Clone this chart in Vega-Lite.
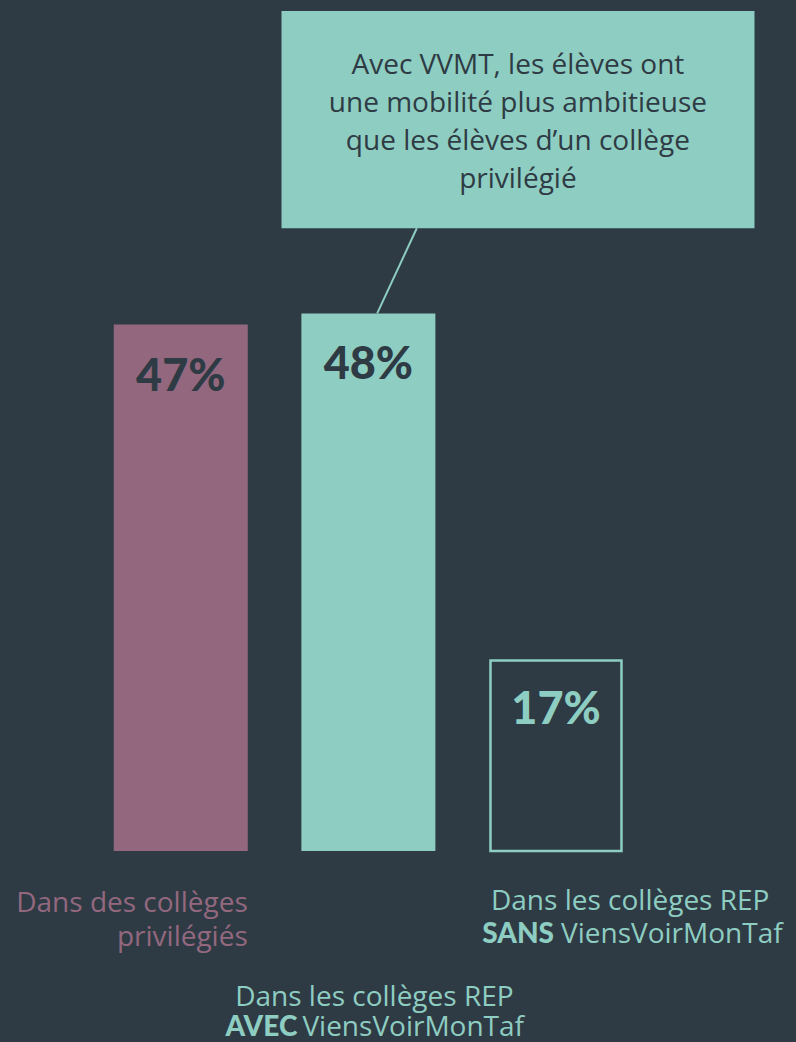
{
  "$schema": "https://vega.github.io/schema/vega-lite/v6.json",
  "width": 796,
  "height": 1042,
  "padding": 0,
  "autosize": {"type": "none"},
  "background": "#2e3b44",
  "config": {"view": {"stroke": null}, "text": {"font": "Open Sans"}, "axis": {"disable": true}},
  "datasets": {
    "bars": [
      {"pos": 1, "cat": "privilégiés", "value": 47, "label": "47%", "desc1": "Dans des collèges", "desc2": "privilégiés", "emph": "", "brand": ""},
      {"pos": 2, "cat": "AVEC", "value": 48, "label": "48%", "desc1": "Dans les collèges REP", "desc2": "", "emph": "AVEC", "brand": "ViensVoirMonTaf"},
      {"pos": 3, "cat": "SANS", "value": 17, "label": "17%", "desc1": "Dans les collèges REP", "desc2": "", "emph": "SANS", "brand": "ViensVoirMonTaf"}
    ],
    "note": [
      {"note": "Avec VVMT, les élèves ont\nune mobilité plus ambitieuse\nque les élèves d’un collège\nprivilégié", "left": 1.537, "right": 4.058, "bottom": 55.6, "top": 75.0, "center": 2.797, "from_x": 2.258, "to_x": 2.047, "to_y": 48}
    ]
  },
  "layer": [
    {
      "data": {"name": "bars"},
      "transform": [{"filter": "datum.pos < 3"}],
      "mark": {"type": "bar", "width": 134},
      "encoding": {
        "x": {"field": "pos", "type": "quantitative", "axis": null, "scale": {"domain": [0.0632, 4.2526], "nice": false, "zero": false}},
        "y": {"field": "value", "type": "quantitative", "axis": null, "scale": {"domain": [-17.05, 75.98], "nice": false, "zero": false}},
        "color": {"field": "cat", "type": "nominal", "legend": null, "scale": {"domain": ["privilégiés", "AVEC", "SANS"], "range": ["#93687f", "#8ecdc2", "#2e3b44"]}}
      }
    },
    {
      "data": {"name": "bars"},
      "transform": [{"filter": "datum.pos === 3"}],
      "mark": {"type": "bar", "width": 131, "fill": "#2e3b44", "stroke": "#8ecdc2", "strokeWidth": 2.5},
      "encoding": {
        "x": {"field": "pos", "type": "quantitative", "axis": null},
        "y": {"field": "value", "type": "quantitative", "axis": null}
      }
    },
    {
      "data": {"name": "bars"},
      "transform": [{"filter": "datum.pos < 3"}],
      "mark": {"type": "text", "font": "Lato", "fontWeight": 900, "fontSize": 45, "baseline": "alphabetic", "align": "center", "dy": 66, "color": "#2e3b44"},
      "encoding": {
        "x": {"field": "pos", "type": "quantitative", "axis": null},
        "y": {"field": "value", "type": "quantitative", "axis": null},
        "text": {"field": "label"}
      }
    },
    {
      "data": {"name": "bars"},
      "transform": [{"filter": "datum.pos === 3"}],
      "mark": {"type": "text", "font": "Lato", "fontWeight": 900, "fontSize": 45, "baseline": "alphabetic", "align": "center", "dy": 63, "color": "#8ecdc2"},
      "encoding": {
        "x": {"field": "pos", "type": "quantitative", "axis": null},
        "y": {"field": "value", "type": "quantitative", "axis": null},
        "text": {"field": "label"}
      }
    },
    {
      "data": {"name": "bars"},
      "transform": [{"filter": "datum.pos === 1"}],
      "mark": {"type": "text", "fontSize": 28, "align": "right", "baseline": "alphabetic", "dx": 67, "dy": 61, "color": "#93687f"},
      "encoding": {
        "x": {"field": "pos", "type": "quantitative", "axis": null},
        "y": {"datum": 0, "type": "quantitative", "axis": null},
        "text": {"field": "desc1"}
      }
    },
    {
      "data": {"name": "bars"},
      "transform": [{"filter": "datum.pos === 1"}],
      "mark": {"type": "text", "fontSize": 28, "align": "right", "baseline": "alphabetic", "dx": 67, "dy": 95, "color": "#93687f"},
      "encoding": {
        "x": {"field": "pos", "type": "quantitative", "axis": null},
        "y": {"datum": 0, "type": "quantitative", "axis": null},
        "text": {"field": "desc2"}
      }
    },
    {
      "data": {"name": "bars"},
      "transform": [{"filter": "datum.pos === 3"}],
      "mark": {"type": "text", "fontSize": 28, "align": "left", "baseline": "alphabetic", "dx": -65, "dy": 59, "color": "#8ecdc2"},
      "encoding": {
        "x": {"field": "pos", "type": "quantitative", "axis": null},
        "y": {"datum": 0, "type": "quantitative", "axis": null},
        "text": {"field": "desc1"}
      }
    },
    {
      "data": {"name": "bars"},
      "transform": [{"filter": "datum.pos === 3"}],
      "mark": {"type": "text", "fontSize": 28, "font": "Lato", "fontWeight": 900, "align": "right", "baseline": "alphabetic", "dx": -2, "dy": 92, "color": "#8ecdc2"},
      "encoding": {
        "x": {"field": "pos", "type": "quantitative", "axis": null},
        "y": {"datum": 0, "type": "quantitative", "axis": null},
        "text": {"field": "emph"}
      }
    },
    {
      "data": {"name": "bars"},
      "transform": [{"filter": "datum.pos === 3"}],
      "mark": {"type": "text", "fontSize": 28, "align": "left", "baseline": "alphabetic", "dx": 5, "dy": 92, "color": "#8ecdc2"},
      "encoding": {
        "x": {"field": "pos", "type": "quantitative", "axis": null},
        "y": {"datum": 0, "type": "quantitative", "axis": null},
        "text": {"field": "brand"}
      }
    },
    {
      "data": {"name": "bars"},
      "transform": [{"filter": "datum.pos === 2"}],
      "mark": {"type": "text", "fontSize": 28, "align": "center", "baseline": "alphabetic", "dx": 6, "dy": 155, "color": "#8ecdc2"},
      "encoding": {
        "x": {"field": "pos", "type": "quantitative", "axis": null},
        "y": {"datum": 0, "type": "quantitative", "axis": null},
        "text": {"field": "desc1"}
      }
    },
    {
      "data": {"name": "bars"},
      "transform": [{"filter": "datum.pos === 2"}],
      "mark": {"type": "text", "fontSize": 28, "font": "Lato", "fontWeight": 900, "align": "right", "baseline": "alphabetic", "dx": -71, "dy": 185, "color": "#8ecdc2"},
      "encoding": {
        "x": {"field": "pos", "type": "quantitative", "axis": null},
        "y": {"datum": 0, "type": "quantitative", "axis": null},
        "text": {"field": "emph"}
      }
    },
    {
      "data": {"name": "bars"},
      "transform": [{"filter": "datum.pos === 2"}],
      "mark": {"type": "text", "fontSize": 28, "align": "left", "baseline": "alphabetic", "dx": -66, "dy": 185, "color": "#8ecdc2"},
      "encoding": {
        "x": {"field": "pos", "type": "quantitative", "axis": null},
        "y": {"datum": 0, "type": "quantitative", "axis": null},
        "text": {"field": "brand"}
      }
    },
    {
      "data": {"name": "note"},
      "mark": {"type": "rect", "color": "#8ecdc2"},
      "encoding": {
        "x": {"field": "left", "type": "quantitative", "axis": null},
        "x2": {"field": "right"},
        "y": {"field": "bottom", "type": "quantitative", "axis": null},
        "y2": {"field": "top"}
      }
    },
    {
      "data": {"name": "note"},
      "mark": {"type": "rule", "color": "#8ecdc2", "strokeWidth": 2},
      "encoding": {
        "x": {"field": "from_x", "type": "quantitative", "axis": null},
        "x2": {"field": "to_x"},
        "y": {"field": "bottom", "type": "quantitative", "axis": null},
        "y2": {"field": "to_y"}
      }
    },
    {
      "data": {"name": "note"},
      "mark": {"type": "text", "fontSize": 28, "align": "center", "baseline": "alphabetic", "dy": 63, "lineBreak": "\n", "lineHeight": 38, "color": "#2e3b44"},
      "encoding": {
        "x": {"field": "center", "type": "quantitative", "axis": null},
        "y": {"field": "top", "type": "quantitative", "axis": null},
        "text": {"field": "note"}
      }
    }
  ]
}
